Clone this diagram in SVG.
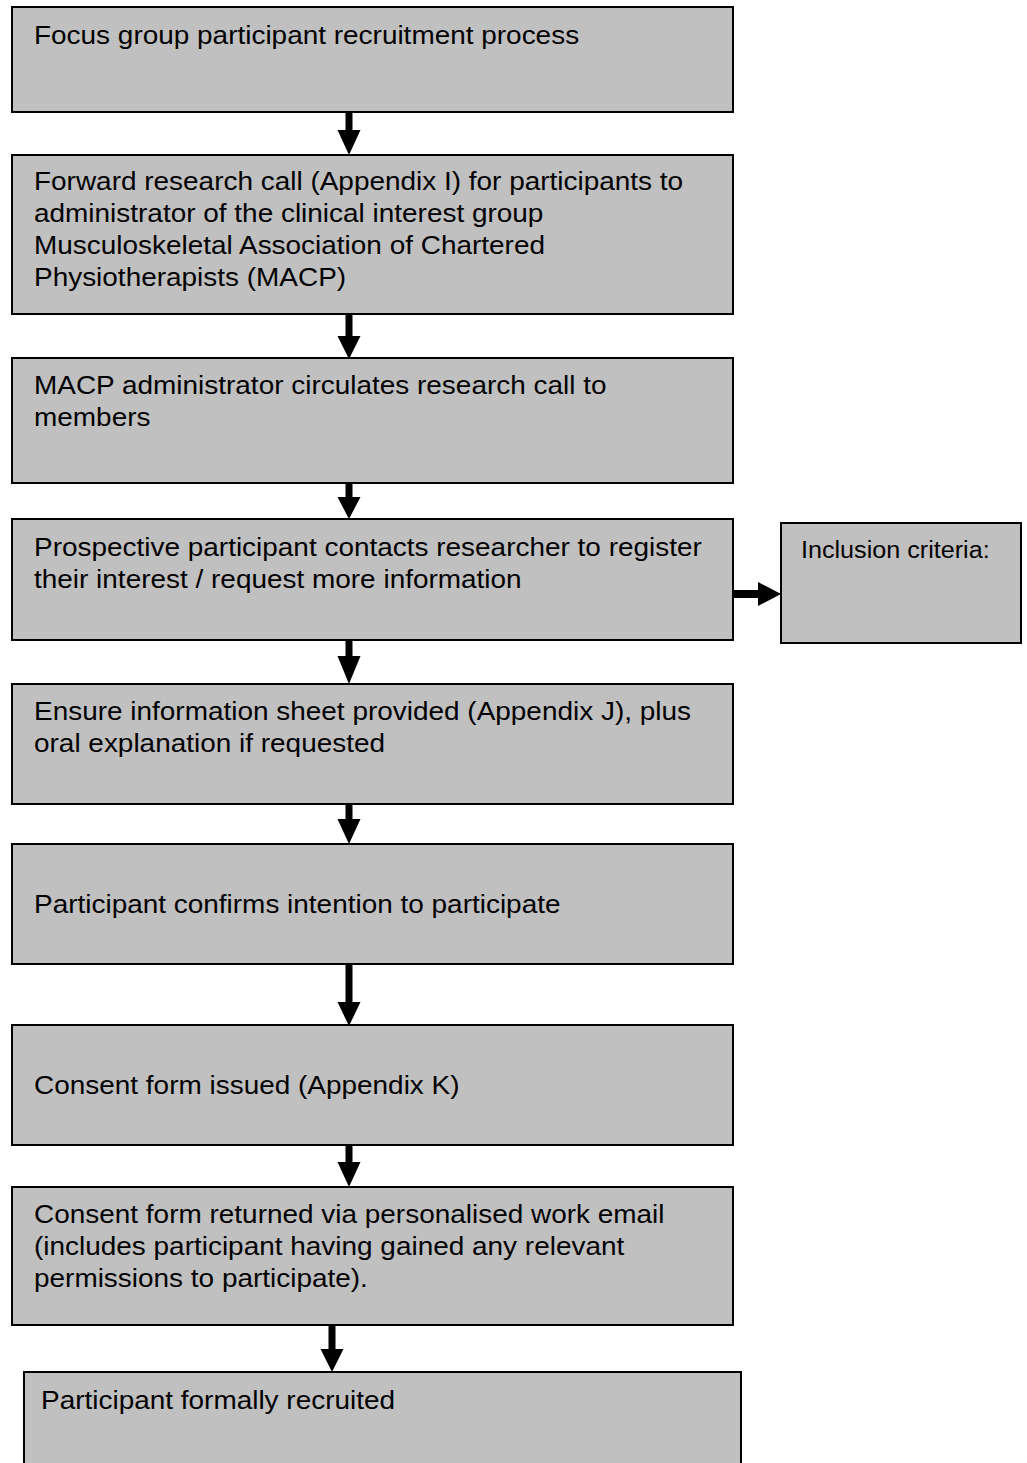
<svg xmlns="http://www.w3.org/2000/svg" width="1027" height="1463" viewBox="0 0 1027 1463">
  <style>
    .box { fill: #c0c0c0; stroke: #000; stroke-width: 2; }
    .t, .ts { font-family: "Liberation Sans", Arial, sans-serif; fill: #000;
              transform-box: fill-box; transform-origin: left center; transform: scaleX(1.075); }
    .t { font-size: 26px; }
    .ts { font-size: 23.4px; }
    .arrow { fill: #000; }
  </style>
  <rect width="1027" height="1463" fill="#fff"/>

  <g id="connectors">
    <!-- vertical block arrows: shaft + head -->
    <path class="arrow" d="M345.5 108 h7 v22 h8 l-11.5 25 l-11.5 -25 h8 z"/>
    <path class="arrow" d="M345.5 314 h7 v22 h8 l-11.5 23 l-11.5 -23 h8 z"/>
    <path class="arrow" d="M345.5 477 h7 v20 h8 l-11.5 22 l-11.5 -22 h8 z"/>
    <path class="arrow" d="M345.5 634 h7 v22 h8 l-11.5 28 l-11.5 -28 h8 z"/>
    <path class="arrow" d="M345.5 799 h7 v20 h8 l-11.5 25 l-11.5 -25 h8 z"/>
    <path class="arrow" d="M345.5 964 h7 v38 h8 l-11.5 24 l-11.5 -24 h8 z"/>
    <path class="arrow" d="M345.5 1140 h7 v22 h8 l-11.5 25 l-11.5 -25 h8 z"/>
    <path class="arrow" d="M328.5 1325 h7 v24 h8 l-11.5 23 l-11.5 -23 h8 z"/>
    <!-- side arrow to inclusion criteria -->
    <path class="arrow" d="M733 590 h25 v-8 l23 12 l-23 12 v-8 h-25 z"/>
  </g>

  <g id="n1">
    <rect class="box" x="12" y="7" width="721" height="105"/>
    <text class="t" x="34" y="44">Focus group participant recruitment process</text>
  </g>
  <g id="n2">
    <rect class="box" x="12" y="155" width="721" height="159"/>
    <text class="t" x="34" y="190">Forward research call (Appendix I) for participants to</text>
    <text class="t" x="34" y="222">administrator of the clinical interest group</text>
    <text class="t" x="34" y="254">Musculoskeletal Association of Chartered</text>
    <text class="t" x="34" y="286">Physiotherapists (MACP)</text>
  </g>
  <g id="n3">
    <rect class="box" x="12" y="358" width="721" height="125"/>
    <text class="t" x="34" y="394">MACP administrator circulates research call to</text>
    <text class="t" x="34" y="426">members</text>
  </g>
  <g id="n4">
    <rect class="box" x="12" y="519" width="721" height="121"/>
    <text class="t" x="34" y="556">Prospective participant contacts researcher to register</text>
    <text class="t" x="34" y="588">their interest / request more information</text>
  </g>
  <g id="n4b">
    <rect class="box" x="781" y="523" width="240" height="120"/>
    <text class="ts" x="801" y="558">Inclusion criteria:</text>
  </g>
  <g id="n5">
    <rect class="box" x="12" y="684" width="721" height="120"/>
    <text class="t" x="34" y="720">Ensure information sheet provided (Appendix J), plus</text>
    <text class="t" x="34" y="752">oral explanation if requested</text>
  </g>
  <g id="n6">
    <rect class="box" x="12" y="844" width="721" height="120"/>
    <text class="t" x="34" y="913">Participant confirms intention to participate</text>
  </g>
  <g id="n7">
    <rect class="box" x="12" y="1025" width="721" height="120"/>
    <text class="t" x="34" y="1094">Consent form issued (Appendix K)</text>
  </g>
  <g id="n8">
    <rect class="box" x="12" y="1187" width="721" height="138"/>
    <text class="t" x="34" y="1223">Consent form returned via personalised work email</text>
    <text class="t" x="34" y="1255">(includes participant having gained any relevant</text>
    <text class="t" x="34" y="1287">permissions to participate).</text>
  </g>
  <g id="n9">
    <rect class="box" x="24" y="1372" width="717" height="100"/>
    <text class="t" x="41" y="1409">Participant formally recruited</text>
  </g>
</svg>
